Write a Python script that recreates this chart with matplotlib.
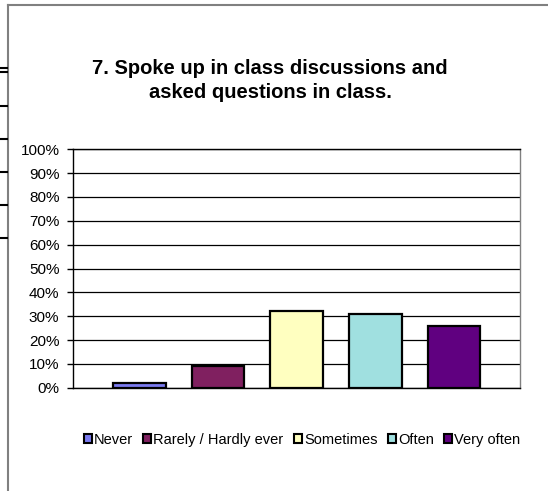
import matplotlib
matplotlib.use('Agg')
import matplotlib.pyplot as plt
from matplotlib.lines import Line2D
from matplotlib.patches import Patch
import numpy as np

plt.rcParams['font.family'] = ['Liberation Sans', 'DejaVu Sans']

# answer categories and share of responses (%)
categories = ['Never', 'Rarely / Hardly ever', 'Sometimes', 'Often', 'Very often']
shares = [2, 9, 32, 31, 26]
colors = ['#7B7BF0', '#802060', '#FFFFC0', '#A0E0E0', '#600080']
yticks = [0, 10, 20, 30, 40, 50, 60, 70, 80, 90, 100]

W, H = 548, 491
fig = plt.figure(figsize=(W / 100, H / 100), dpi=100)

# chart frame (only top and left edges are visible in the crop)
fig.add_artist(Line2D([8 / W, 547 / W], [1 - 5 / H, 1 - 5 / H], transform=fig.transFigure,
                      color='#808080', lw=1.5))
fig.add_artist(Line2D([8 / W, 8 / W], [1 - 5 / H, 0], transform=fig.transFigure,
                      color='#808080', lw=1.5))
# bits of a neighbouring chart peeking in on the left
for yy in [68, 72, 106, 139, 172, 205, 238]:
    fig.add_artist(Line2D([0, 7 / W], [1 - yy / H, 1 - yy / H], transform=fig.transFigure,
                          color='black', lw=1.5))

ax = fig.add_axes([73.3 / W, 1 - 387.7 / H, (520 - 73.3) / W, (387.7 - 149.3) / H])
x = np.arange(len(categories))
ax.bar(x, shares, width=0.67, color=colors, edgecolor='black', linewidth=1.6, zorder=3)

ax.set_xlim(-0.84, 4.84)
ax.set_ylim(0, 100)
ax.set_yticks(yticks)
ax.set_yticklabels([f'{v}%' for v in yticks], fontsize=11)
ax.set_xticks([])
ax.tick_params(axis='y', direction='out', length=4, width=1, pad=6)
ax.yaxis.grid(True, color='black', linewidth=0.9, zorder=0)
for s in ax.spines.values():
    s.set_color('black')
    s.set_linewidth(1)
ax.spines['right'].set_color('#808080')

fig.text(270 / W, 1 - 74 / H, '7. Spoke up in class discussions and', ha='center',
         va='baseline', fontsize=14.5, fontweight='bold')
fig.text(270 / W, 1 - 98 / H, 'asked questions in class.', ha='center',
         va='baseline', fontsize=14.5, fontweight='bold')

handles = [Patch(facecolor=c, edgecolor='black', linewidth=1.5) for c in colors]
fig.legend(handles, categories, loc='center', bbox_to_anchor=(302 / W, 1 - 440 / H),
           ncol=5, frameon=False, fontsize=10.5, handlelength=0.55, handleheight=0.55,
           handletextpad=0.15, columnspacing=0.7, borderpad=0)

fig.savefig('out.png', dpi=100)
